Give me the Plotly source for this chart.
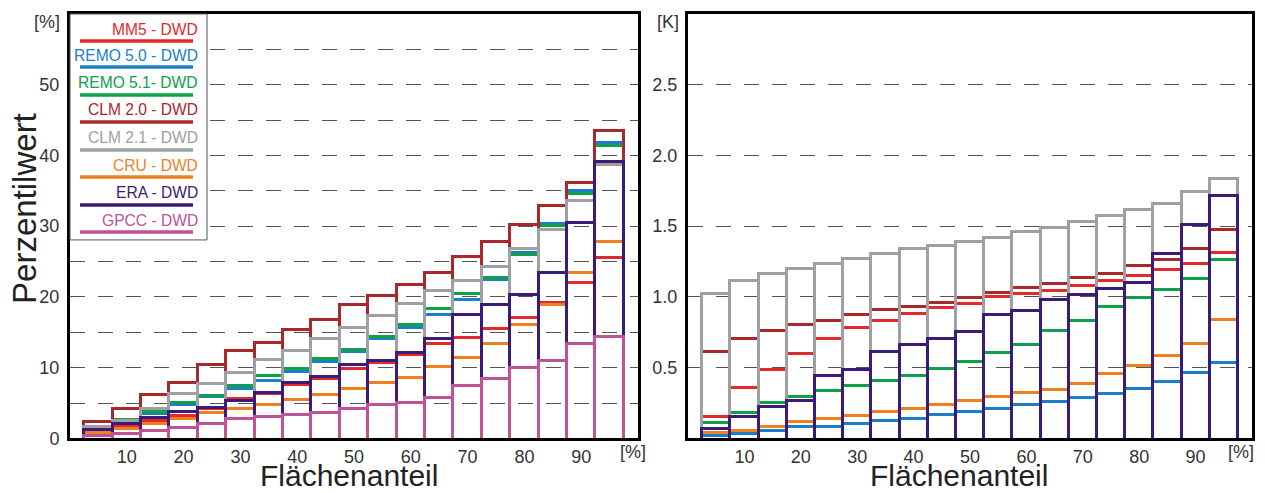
import plotly.graph_objects as go

W, H = 1265, 493

# ---------------- data ----------------
flaechenanteil = [5, 10, 15, 20, 25, 30, 35, 40, 45, 50, 55, 60, 65, 70, 75, 80, 85, 90, 95]
x_ticks = [10, 20, 30, 40, 50, 60, 70, 80, 90]

series_names = ["MM5 - DWD", "REMO 5.0 - DWD", "REMO 5.1- DWD", "CLM 2.0 - DWD",
                "CLM 2.1 - DWD", "CRU - DWD", "ERA - DWD", "GPCC - DWD"]
series_colors = ["#e3292b", "#1a7fc8", "#0fa04a", "#a8282c",
                 "#9ea0a4", "#ef7f1f", "#3b1a78", "#c0529a"]

# left panel: precipitation percentile values [%]
mm5_p = [1.0, 1.8, 2.5, 3.2, 4.2, 5.5, 6.3, 7.5, 8.4, 9.74, 10.7, 11.85, 13.3, 14.2, 15.4, 17.0, 19.2, 21.9, 25.5]
remo50_p = [1.35, 2.1, 3.4, 4.7, 5.8, 6.93, 8.1, 9.4, 10.8, 12.2, 14.1, 15.6, 17.5, 19.6, 22.4, 26.2, 30.3, 35.0, 41.8]
remo51_p = [1.45, 2.6, 3.7, 4.95, 6.03, 7.4, 8.8, 9.75, 11.2, 12.46, 14.3, 16.0, 18.3, 20.45, 22.7, 25.9, 30.0, 34.5, 41.4]
clm20_p = [2.3, 4.1, 6.1, 7.9, 10.4, 12.3, 13.55, 15.3, 16.8, 18.8, 20.1, 21.7, 23.4, 25.6, 27.8, 30.2, 32.8, 36.1, 43.5]
clm21_p = [1.6, 2.5, 4.1, 6.3, 7.7, 9.2, 11.05, 12.3, 14.1, 15.66, 17.25, 19.0, 20.8, 22.2, 24.2, 26.8, 29.4, 33.6, 38.7]
cru_p = [0.8, 1.35, 2.0, 2.7, 3.55, 4.12, 4.7, 5.42, 6.1, 6.93, 7.77, 8.56, 10.05, 11.4, 13.4, 16.1, 18.9, 23.4, 27.7]
era_p = [1.2, 2.0, 2.95, 3.8, 4.25, 5.28, 6.45, 7.77, 8.7, 10.35, 10.96, 12.1, 14.1, 17.5, 18.8, 20.3, 23.35, 30.45, 39.1]
gpcc_p = [0.4, 0.6, 1.05, 1.4, 2.0, 2.7, 2.96, 3.3, 3.6, 4.15, 4.72, 4.96, 5.78, 7.44, 8.38, 9.9, 10.9, 13.4, 14.3]

# right panel: temperature percentile values [K]
mm5_t = [0.15, 0.355, 0.48, 0.60, 0.70, 0.78, 0.83, 0.88, 0.92, 0.95, 1.00, 1.02, 1.04, 1.08, 1.11, 1.151, 1.19, 1.23, 1.31]
remo50_t = [0.02, 0.03, 0.055, 0.077, 0.08, 0.10, 0.12, 0.14, 0.165, 0.185, 0.206, 0.235, 0.256, 0.284, 0.313, 0.352, 0.40, 0.463, 0.534]
remo51_t = [0.11, 0.18, 0.25, 0.29, 0.335, 0.37, 0.405, 0.44, 0.49, 0.54, 0.605, 0.663, 0.76, 0.83, 0.93, 0.99, 1.05, 1.13, 1.26]
clm20_t = [0.61, 0.70, 0.76, 0.80, 0.83, 0.87, 0.91, 0.93, 0.96, 0.99, 1.03, 1.064, 1.09, 1.133, 1.16, 1.22, 1.26, 1.34, 1.47]
clm21_t = [1.02, 1.11, 1.16, 1.20, 1.23, 1.27, 1.30, 1.34, 1.36, 1.39, 1.42, 1.46, 1.49, 1.53, 1.57, 1.616, 1.658, 1.74, 1.837]
cru_t = [0.035, 0.05, 0.08, 0.115, 0.14, 0.16, 0.19, 0.21, 0.235, 0.263, 0.296, 0.324, 0.345, 0.383, 0.454, 0.51, 0.58, 0.67, 0.84]
era_t = [0.065, 0.148, 0.22, 0.265, 0.44, 0.48, 0.61, 0.66, 0.70, 0.755, 0.873, 0.90, 0.98, 1.017, 1.055, 1.10, 1.30, 1.51, 1.71]

left_series = [mm5_p, remo50_p, remo51_p, clm20_p, clm21_p, cru_p, era_p, gpcc_p]
right_series = [mm5_t, remo50_t, remo51_t, clm20_t, clm21_t, cru_t, era_t, None]

left_y_ticks = [0, 5, 10, 15, 20, 25, 30, 35, 40, 45, 50, 55]
left_y_text = ["0", "", "10", "", "20", "", "30", "", "40", "", "50", ""]
right_y_ticks = [0.5, 1.0, 1.5, 2.0, 2.5]
right_y_text = ["0.5", "1.0", "1.5", "2.0", "2.5"]

# ---------------- helpers ----------------
# the rendered page comes out about 2% shorter than the layout height; compensate
VSCALE = 0.98

def px(x):
    return x / W

def py(y):
    return 1 - y / (H * VSCALE)

FONT = "Liberation Sans, Arial, sans-serif"

fig = go.Figure()

# bars start a little below zero so their bottom edge is clipped under the axis
LEFT_BASE = -1.0
RIGHT_BASE = -0.05

for vals, col in zip(left_series, series_colors):
    fig.add_trace(go.Bar(x=flaechenanteil, y=[v - LEFT_BASE for v in vals], base=LEFT_BASE,
                         width=5, xaxis="x", yaxis="y", customdata=vals,
                         marker=dict(color="rgba(0,0,0,0)", line=dict(color=col, width=3)),
                         showlegend=False, hovertemplate="%{customdata}<extra></extra>"))
for vals, col in zip(right_series, series_colors):
    if vals is None:
        continue
    fig.add_trace(go.Bar(x=flaechenanteil, y=[v - RIGHT_BASE for v in vals], base=RIGHT_BASE,
                         width=5, xaxis="x2", yaxis="y2", customdata=vals,
                         marker=dict(color="rgba(0,0,0,0)", line=dict(color=col, width=3)),
                         showlegend=False, hovertemplate="%{customdata}<extra></extra>"))

ydom = [py(438.5), py(14)]
axis_common = dict(showline=True, linewidth=3, linecolor="black", mirror=True,
                   zeroline=False, ticks="", tickfont=dict(family=FONT, size=18, color="#333"))
grid_common = dict(showgrid=True, gridcolor="#555", gridwidth=1.3, griddash="15px,13px")

fig.update_layout(
    width=W, height=H,
    margin=dict(l=0, r=0, t=0, b=0),
    paper_bgcolor="white", plot_bgcolor="white",
    barmode="overlay", bargap=0,
    font=dict(family=FONT, color="#222"),
    xaxis=dict(domain=[px(70), px(638)], range=[0, 100], tickvals=x_ticks,
               showgrid=False, anchor="y", **axis_common),
    yaxis=dict(domain=ydom, range=[0, 60], tickvals=left_y_ticks, ticktext=left_y_text,
               anchor="x", ticklabelstandoff=4, **grid_common, **axis_common),
    xaxis2=dict(domain=[px(688), px(1252)], range=[0, 100], tickvals=x_ticks,
                showgrid=False, anchor="y2", **axis_common),
    yaxis2=dict(domain=ydom, range=[0, 3], tickvals=right_y_ticks, ticktext=right_y_text,
                anchor="x2", ticklabelstandoff=4, **grid_common, **axis_common),
)

ann = []
def text(x, y, s, size, color="#222", xanchor="center", angle=0):
    ann.append(dict(x=px(x), y=py(y), xref="paper", yref="paper", text=s, showarrow=False,
                    xanchor=xanchor, yanchor="middle", textangle=angle,
                    font=dict(family=FONT, size=size, color=color)))

text(47, 22, "[%]", 18, "#333")
text(668, 22, "[K]", 18, "#333")
text(633, 452, "[%]", 18, "#333")
text(1241, 452, "[%]", 18, "#333")
text(349, 476, "Flächenanteil", 30, "#222")
text(959, 476, "Flächenanteil", 30, "#222")
text(25, 209, "Perzentilwert", 33, "#222", angle=-90)

shapes = [dict(type="rect", xref="paper", yref="paper", x0=px(70), x1=px(207),
               y0=py(240), y1=py(14), line=dict(color="#555", width=1),
               fillcolor="white", layer="above")]
text_y = [30, 56, 83, 110, 138, 166, 193, 221]
line_y = [41, 67, 95, 122, 150, 177, 205, 232]
for name, col, ty, ly in zip(series_names, series_colors, text_y, line_y):
    text(200, ty, name, 15.6, col, xanchor="right")
    shapes.append(dict(type="line", xref="paper", yref="paper", x0=px(80), x1=px(193),
                       y0=py(ly), y1=py(ly), line=dict(color=col, width=3.5), layer="above"))

fig.update_layout(annotations=ann, shapes=shapes)

page_fix = (
    "var s=document.createElement('style');"
    "s.innerHTML='html,body{margin:0;padding:0;overflow:hidden;}';"
    "document.head.appendChild(s);"
)
fig.write_html("out.html", config={"displayModeBar": False}, post_script=page_fix)
